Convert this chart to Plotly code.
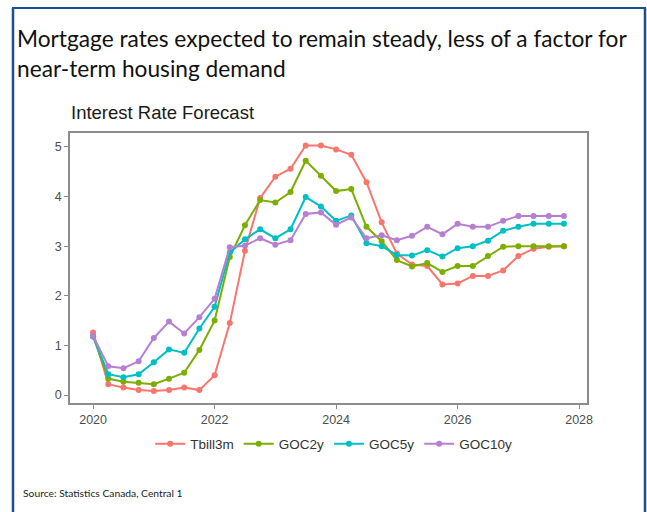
import plotly.graph_objects as go

# Quarterly dates, 2020Q1 .. 2027Q4 (decimal years)
quarters = [2020 + 0.25 * i for i in range(32)]

tbill3m = [1.26, 0.22, 0.15, 0.10, 0.08, 0.10, 0.15, 0.10,
           0.40, 1.45, 2.91, 3.97, 4.40, 4.56, 5.03, 5.03,
           4.95, 4.84, 4.29, 3.48, 2.85, 2.63, 2.60, 2.23,
           2.25, 2.40, 2.40, 2.51, 2.80, 2.95, 2.99, 3.00]
goc2y = [1.18, 0.33, 0.27, 0.25, 0.22, 0.33, 0.45, 0.91,
         1.50, 2.78, 3.42, 3.93, 3.88, 4.09, 4.72, 4.42,
         4.11, 4.15, 3.39, 3.10, 2.72, 2.59, 2.66, 2.48,
         2.60, 2.60, 2.80, 2.99, 3.00, 3.00, 3.00, 3.00]
goc5y = [1.18, 0.42, 0.36, 0.42, 0.66, 0.92, 0.85, 1.34,
         1.78, 2.87, 3.14, 3.34, 3.16, 3.34, 3.99, 3.80,
         3.51, 3.62, 3.06, 3.00, 2.82, 2.81, 2.92, 2.79,
         2.96, 3.00, 3.11, 3.31, 3.39, 3.45, 3.45, 3.45]
goc10y = [1.19, 0.58, 0.54, 0.68, 1.15, 1.48, 1.24, 1.57,
          1.94, 2.98, 3.01, 3.16, 3.03, 3.12, 3.65, 3.68,
          3.43, 3.58, 3.16, 3.22, 3.12, 3.21, 3.39, 3.24,
          3.45, 3.39, 3.39, 3.51, 3.61, 3.61, 3.61, 3.61]

series_names = ["Tbill3m", "GOC2y", "GOC5y", "GOC10y"]
series_values = [tbill3m, goc2y, goc5y, goc10y]
series_colors = ["#F8766D", "#7CAE00", "#00BFC4", "#B77FD2"]

x_ticks = [2020, 2022, 2024, 2026, 2028]
y_ticks = [0, 1, 2, 3, 4, 5]

W, H = 647, 512
L, R, T, B = 70, 587, 133, 403  # plot area in pixels


def px(x):
    return (x - L) / (R - L)


def py(y):
    return (B - y) / (B - T)


fig = go.Figure()
for name, vals, col in zip(series_names, series_values, series_colors):
    fig.add_trace(go.Scatter(
        x=quarters, y=vals, name=name, mode="lines+markers",
        line=dict(color=col, width=2),
        marker=dict(color=col, size=6),
    ))

axis_common = dict(
    showgrid=False, zeroline=False, showline=True, mirror=True,
    linecolor="#8c8c8c", linewidth=1.5,
    ticks="outside", ticklen=4, tickcolor="#8c8c8c", tickwidth=1,
    tickfont=dict(family="Liberation Sans, Arial", size=12.5, color="#4d4d4d"),
)

fig.update_layout(
    width=W, height=H,
    margin=dict(l=L, r=W - R, t=T, b=H - B),
    paper_bgcolor="white", plot_bgcolor="white",
    showlegend=True,
    legend=dict(
        orientation="h", x=0.51, xanchor="center", y=py(444), yanchor="middle",
        font=dict(family="Liberation Sans, Arial", size=13.5, color="#333333"),
        itemwidth=30,
    ),
    xaxis=dict(range=[2019.62, 2028.13], tickvals=x_ticks, **axis_common),
    yaxis=dict(range=[-0.16, 5.28], tickvals=y_ticks, **axis_common),
    annotations=[
        dict(text="Mortgage rates expected to remain steady, less of a factor for<br>near-term housing demand",
             xref="paper", yref="paper", x=px(15), y=py(53), xanchor="left", yanchor="middle",
             align="left", showarrow=False,
             font=dict(family="Lato", size=22.7, color="#111111")),
        dict(text="Interest Rate Forecast",
             xref="paper", yref="paper", x=px(69), y=py(113), xanchor="left", yanchor="middle",
             showarrow=False,
             font=dict(family="Liberation Sans, Arial", size=18.5, color="#1a1a1a")),
        dict(text="Source: Statistics Canada, Central 1",
             xref="paper", yref="paper", x=px(21), y=py(493), xanchor="left", yanchor="middle",
             showarrow=False,
             font=dict(family="Lato", size=10.3, color="#222222")),
    ],
    shapes=[
        # dark blue frame around the slide panel (left, top, right edges)
        dict(type="line", xref="paper", yref="paper", x0=px(13), x1=px(13), y0=py(8), y1=py(512),
             line=dict(color="#1F4E8C", width=2.5)),
        dict(type="line", xref="paper", yref="paper", x0=px(12), x1=px(646), y0=py(8), y1=py(8),
             line=dict(color="#1F4E8C", width=2)),
        dict(type="line", xref="paper", yref="paper", x0=px(645), x1=px(645), y0=py(8), y1=py(512),
             line=dict(color="#1F4E8C", width=2.5)),
    ],
)

fig.write_html("out.html")
